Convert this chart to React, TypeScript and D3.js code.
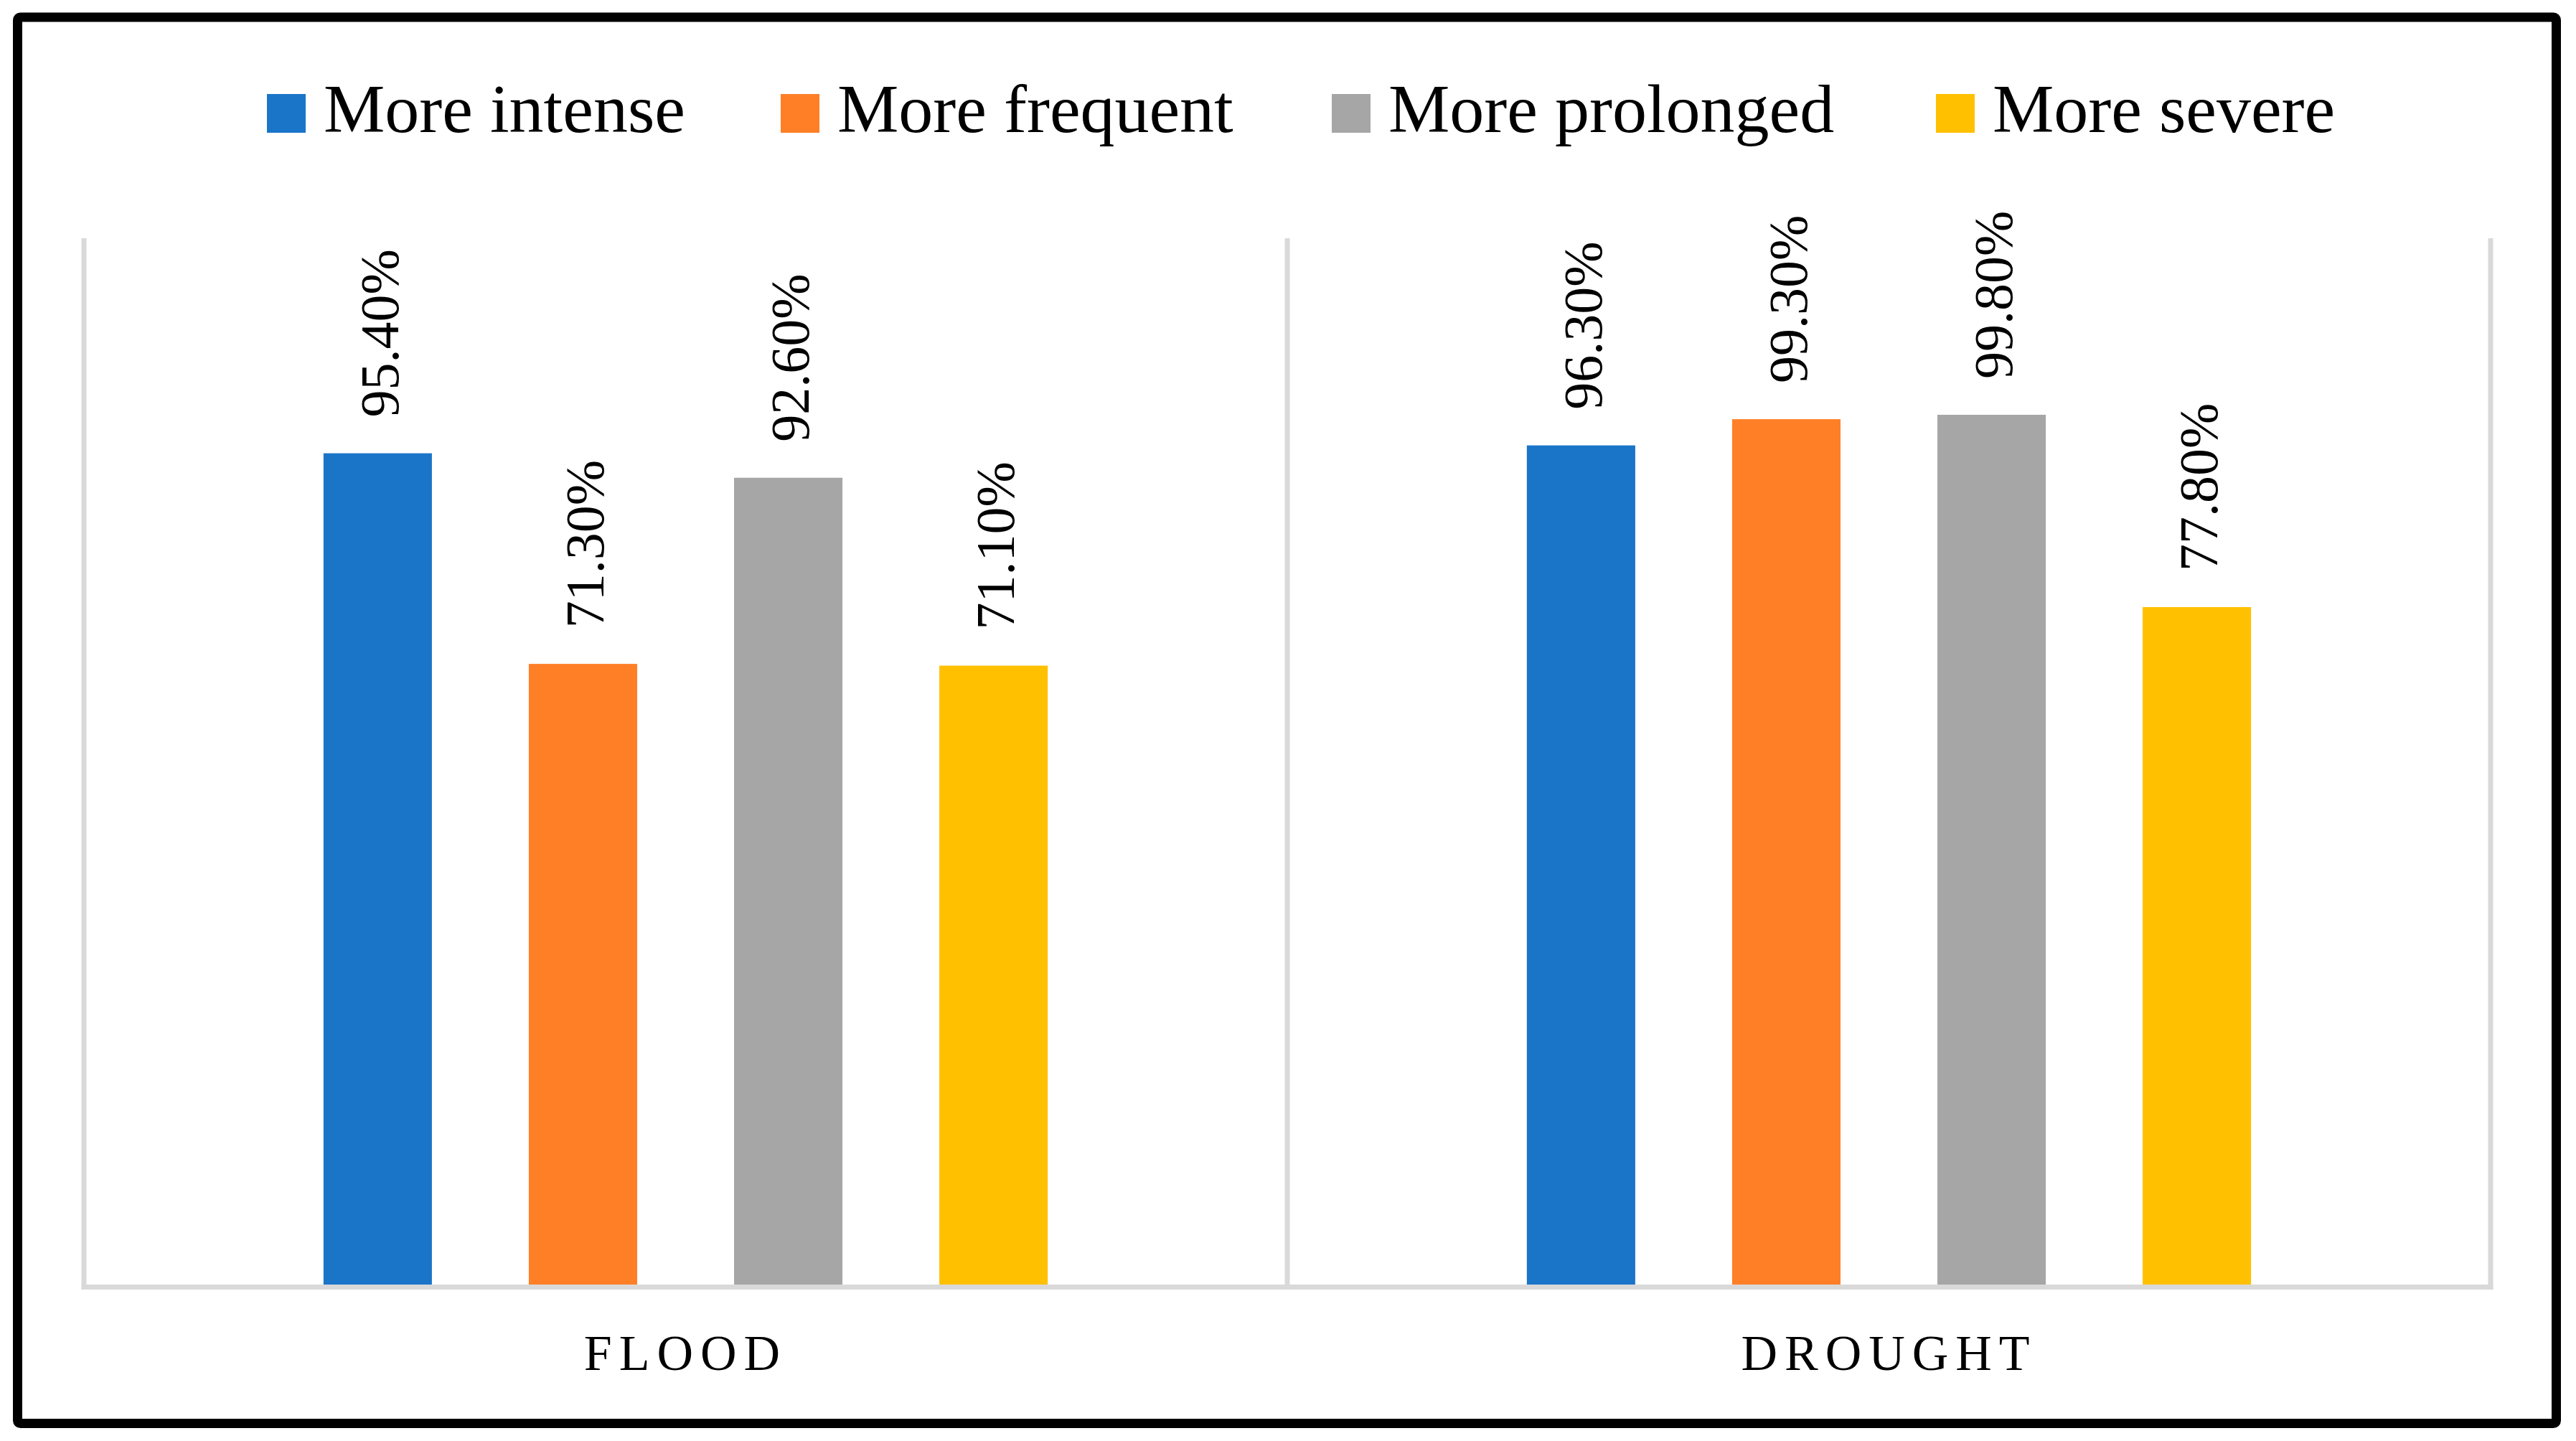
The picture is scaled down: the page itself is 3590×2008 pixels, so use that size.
import React from "react";
import * as d3 from "d3";

const categories = ["FLOOD", "DROUGHT"];
const seriesNames = ["More intense", "More frequent", "More prolonged", "More severe"];
const floodValues = [95.4, 71.3, 92.6, 71.1];
const droughtValues = [96.3, 99.3, 99.8, 77.8];
const seriesColors = ["#1A75C9", "#FF7F27", "#A6A6A6", "#FFC000"];
const yMax = 120;

const W = 3590;
const H = 2008;
const FONT = "'Palatino Linotype', 'Book Antiqua', Palatino, 'Liberation Serif', 'DejaVu Serif', serif";

const plot = { left: 117, right: 3471, top: 332, bottom: 1793.5 };
const legendX = [372, 1088, 1856, 2698];

export default function App() {
  const valuesByCat = [floodValues, droughtValues];
  const x0 = d3.scaleBand<string>().domain(categories).range([plot.left, plot.right]).padding(0);
  const x1 = d3
    .scaleBand<string>()
    .domain(seriesNames)
    .range([0, x0.bandwidth()])
    .paddingInner(0.472)
    .paddingOuter(1.167);
  const y = d3.scaleLinear().domain([0, yMax]).range([plot.bottom, plot.top]);
  const gridColor = "#D9D9D9";
  const separators = [plot.left, ...categories.map((c) => (x0(c) as number) + x0.bandwidth())];

  return (
    <svg
      width={W}
      height={H}
      style={{ position: "absolute", left: 0, top: 0, display: "block", background: "#fff" }}
      fontFamily={FONT}
    >
      <rect x={0} y={0} width={W} height={H} fill="#fff" />
      {/* legend */}
      {seriesNames.map((s, i) => (
        <g key={s}>
          <rect x={legendX[i]} y={131} width={54} height={54} fill={seriesColors[i]} />
          <text x={legendX[i] + 79} y={184} fontSize={96} fill="#000">
            {s}
          </text>
        </g>
      ))}
      {/* separators */}
      {separators.map((sx, i) => (
        <line key={i} x1={sx} x2={sx} y1={plot.top} y2={plot.bottom + 3.5} stroke={gridColor} strokeWidth={7} />
      ))}
      {/* bars */}
      {categories.map((c, ci) => (
        <g key={c} transform={`translate(${x0(c)},0)`}>
          {seriesNames.map((s, si) => {
            const v = valuesByCat[ci][si];
            const bx = x1(s) as number;
            const cx = bx + x1.bandwidth() / 2;
            return (
              <g key={s}>
                <rect x={bx} y={y(v)} width={x1.bandwidth()} height={y(0) - y(v)} fill={seriesColors[si]} />
                <text
                  transform={`translate(${cx},${y(v) - 50}) rotate(-90)`}
                  dy="0.37em"
                  fontSize={76}
                  textAnchor="start"
                  fill="#000"
                >
                  {v.toFixed(2) + "%"}
                </text>
              </g>
            );
          })}
        </g>
      ))}
      {/* axis line */}
      <line x1={plot.left - 3.5} x2={plot.right + 3.5} y1={plot.bottom} y2={plot.bottom} stroke={gridColor} strokeWidth={7} />
      {/* category labels */}
      {categories.map((c) => (
        <text
          key={c}
          x={(x0(c) as number) + x0.bandwidth() / 2}
          y={1909}
          fontSize={70}
          letterSpacing={10}
          textAnchor="middle"
          fill="#000"
        >
          {c}
        </text>
      ))}
      {/* outer border */}
      <rect x={24.5} y={24} width={3538} height={1959.5} rx={4} fill="none" stroke="#000" strokeWidth={13} />
    </svg>
  );
}
